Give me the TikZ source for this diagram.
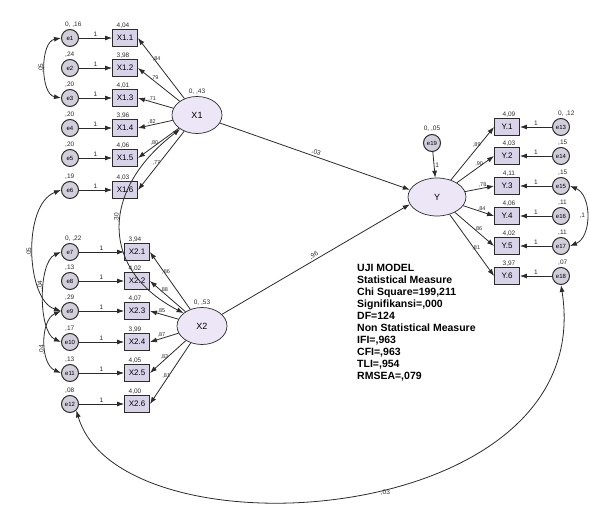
\documentclass[tikz,border=0pt]{standalone}
\usepackage{fontspec}
\setmainfont{Liberation Sans}
\usetikzlibrary{arrows.meta, positioning, shapes.geometric}
\definecolor{edge}{HTML}{2B2B2B}
\definecolor{boxbg}{HTML}{D9D3EA}
\definecolor{latbg}{HTML}{ECE6F6}
\definecolor{errbg}{HTML}{D2CEDC}

\begin{document}
\begin{tikzpicture}[x=1pt, y=-1pt,
    font=\fontsize{6.5}{7}\selectfont,
    obs/.style={draw=edge, fill=boxbg, line width=0.9pt, minimum width=25pt,
                minimum height=17pt, inner sep=0pt, font=\fontsize{8}{9}\selectfont},
    err/.style={circle, draw=edge, fill=errbg, line width=1pt, minimum size=17pt,
                inner sep=0pt, font=\fontsize{6}{6}\selectfont},
    lat/.style={ellipse, draw=edge, fill=latbg, line width=0.7pt, minimum width=50pt,
                minimum height=37pt, font=\fontsize{9}{10}\selectfont},
    ar/.style={-{Latex[length=7pt, width=5pt]}, edge, line width=0.8pt},
    cov/.style={{Latex[length=7pt, width=5pt]}-{Latex[length=7pt, width=5pt]}, edge, line width=0.8pt},
    val/.style={font=\fontsize{6.5}{7}\selectfont, inner sep=1pt, text=edge},
    ld/.style={font=\fontsize{5.5}{6}\selectfont, inner sep=0.5pt, text=edge},
    gof/.style={font=\bfseries\fontsize{10.5}{12}\selectfont, align=left, anchor=north west, inner sep=0pt}
  ]
    \useasboundingbox (0,0) rectangle (590,513);
    % latent variables
    \node[lat] (X1) at (197,115) {X1};
    \node[val, above=1pt of X1] {0, ,43};
    \node[lat] (X2) at (202,326) {X2};
    \node[val, above=1pt of X2] {0, ,53};
    \node[lat, minimum width=58pt, minimum height=38pt] (Y) at (437,197) {Y};
    \node[err] (e19) at (432,143) {e19};
    \node[val, above=1pt of e19] {0, ,05};
    \draw[ar] (e19) -- (Y) node[val, midway, right] {1};
    % X1 indicators
    \foreach \n/\yy/\v/\c/\l in {1/38/{0, ,16}/{4,04}/{,84}, 2/68/{,24}/{3,98}/{,79},
        3/98/{,20}/{4,01}/{,71}, 4/128/{,20}/{3,96}/{,82}, 5/158/{,20}/{4,06}/{,80},
        6/190/{,19}/{4,03}/{,77}} {
      \node[err] (e\n) at (70,\yy) {e\n};
      \node[obs] (x1\n) at (125,\yy) {X1.\n};
      \node[val, anchor=south west] at ([xshift=-6pt]e\n.north) {\v};
      \node[val, anchor=south] at ([xshift=-2pt]x1\n.north) {\c};
      \draw[ar] (e\n) -- (x1\n) node[val, midway, above] {1};
      \draw[ar] (X1) -- (x1\n.east) node[ld, pos=0.6, above] {\l};
    }
    % X2 indicators
    \foreach \n/\m/\yy/\v/\c/\l in {7/1/252/{0, ,22}/{3,94}/{,86}, 8/2/281/{,13}/{4,02}/{,88},
        9/3/311/{,29}/{4,07}/{,85}, 10/4/342/{,17}/{3,99}/{,87}, 11/5/373/{,13}/{4,05}/{,83},
        12/6/404/{,08}/{4,00}/{,81}} {
      \node[err] (e\n) at (70,\yy) {e\n};
      \node[obs] (x2\m) at (137,\yy) {X2.\m};
      \node[val, anchor=south west] at ([xshift=-6pt]e\n.north) {\v};
      \node[val, anchor=south] at ([xshift=-2pt]x2\m.north) {\c};
      \draw[ar] (e\n) -- (x2\m) node[val, midway, above] {1};
      \draw[ar] (X2) -- (x2\m.east) node[ld, pos=0.6, above] {\l};
    }
    % Y indicators
    \foreach \n/\m/\yy/\v/\c/\l in {13/1/127/{0, ,12}/{4,09}/{,89}, 14/2/156/{,15}/{4,03}/{,90},
        15/3/186/{,15}/{4,11}/{,78}, 16/4/216/{,11}/{4,06}/{,84}, 17/5/246/{,11}/{4,02}/{,86},
        18/6/276/{,07}/{3,97}/{,81}} {
      \node[err] (e\n) at (561,\yy) {e\n};
      \node[obs] (y\m) at (507,\yy) {Y.\m};
      \node[val, anchor=south west] at ([xshift=-4pt]e\n.north) {\v};
      \node[val, anchor=south] at ([xshift=2pt]y\m.north) {\c};
      \draw[ar] (e\n) -- (y\m) node[val, midway, above] {1};
      \draw[ar] (Y) -- (y\m.west) node[ld, pos=0.6, above] {\l};
    }
    % structural paths
    \draw[ar] (X1) -- (Y.165) node[val, midway, above, sloped] {,03};
    \draw[ar] (X2) -- (Y.195) node[val, midway, above, sloped] {,96};
    % covariances
    \draw[cov] (X1.220) .. controls (100,190) and (100,270) .. (X2.145)
      node[val, pos=0.45, anchor=south, rotate=90] {,30};
    \draw[cov] (e1.west) .. controls (40,42) and (40,94) .. (e3.west)
      node[val, midway, anchor=south, rotate=90] {,05};
    \draw[cov] (e6.west) .. controls (22,205) and (26,300) .. (e9.west)
      node[val, midway, anchor=south, rotate=90] {,05};
    \draw[cov] (e7.west) .. controls (38,262) and (38,332) .. (e10.west)
      node[val, pos=0.4, anchor=south, rotate=90] {,04};
    \draw[cov] (e9.west) .. controls (40,320) and (40,364) .. (e11.west)
      node[val, pos=0.6, anchor=south, rotate=90] {,04};
    \draw[cov] (e15.east) .. controls (592,195) and (592,237) .. (e17.east)
      node[val, midway, left] {,1};
    \draw[cov] (e12.south east) .. controls (120,560) and (600,530) .. (e18.south)
      node[val, pos=0.55, below] {,03};
    % fit measures
    \node[gof] (fit) at (357,264) {UJI MODEL\\Statistical Measure\\Chi Square=199,211\\
      Signifikansi=,000\\DF=124\\Non Statistical Measure\\IFI=,963\\CFI=,963\\
      TLI=,954\\RMSEA=,079};
\end{tikzpicture}
\end{document}
